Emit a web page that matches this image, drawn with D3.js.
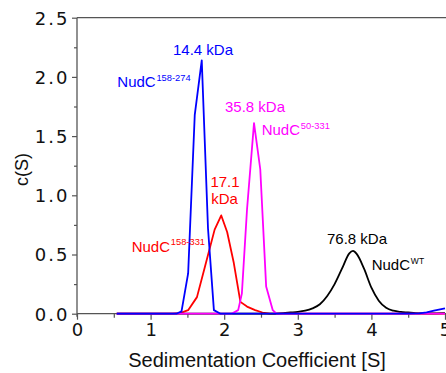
<!DOCTYPE html>
<html>
<head>
<meta charset="utf-8">
<script src="https://cdn.jsdelivr.net/npm/d3@7/dist/d3.min.js"></script>
<style>
  html, body { margin: 0; padding: 0; background: #fff; }
  svg { display: block; }
</style>
</head>
<body>
<svg id="chart" width="446" height="373"></svg>
<script>
// c(S) distributions of NudC constructs (sedimentation velocity AUC)

// NudC 158-274
const s158_274 = [0.54, 1.00, 1.35, 1.42, 1.51, 1.60, 1.695, 1.78, 1.86, 1.95, 2.50, 3.00, 3.50, 4.00, 4.50, 4.65, 4.75, 4.85, 5.00];
const c158_274 = [0.00, 0.00, 0.00, 0.02, 0.34, 1.68, 2.14, 0.72, 0.03, 0.00, 0.00, 0.00, 0.00, 0.00, 0.00, 0.003, 0.012, 0.025, 0.045];

// NudC 158-331
const s158_331 = [0.54, 1.30, 1.40, 1.51, 1.63, 1.74, 1.87, 1.96, 2.04, 2.13, 2.22, 2.31, 2.42, 2.52, 2.62, 3.00, 5.00];
const c158_331 = [0.00, 0.00, 0.005, 0.03, 0.14, 0.40, 0.71, 0.83, 0.69, 0.43, 0.10, 0.06, 0.03, 0.01, 0.00, 0.00, 0.00];

// NudC 50-331
const s50_331 = [0.54, 2.10, 2.19, 2.24, 2.31, 2.405, 2.49, 2.57, 2.66, 2.71, 3.00, 5.00];
const c50_331 = [0.00, 0.00, 0.03, 0.17, 0.88, 1.61, 1.22, 0.23, 0.03, 0.00, 0.00, 0.00];

// NudC wild type
const sWT = [0.54, 2.60, 2.80, 2.90, 3.00, 3.10, 3.20, 3.30, 3.40, 3.50, 3.60, 3.70, 3.75, 3.80, 3.90, 4.00, 4.10, 4.20, 4.30, 4.40, 4.50, 4.60, 4.80, 5.00];
const cWT = [0.00, 0.00, 0.005, 0.01, 0.015, 0.025, 0.045, 0.08, 0.15, 0.25, 0.38, 0.51, 0.53, 0.505, 0.38, 0.22, 0.11, 0.05, 0.025, 0.015, 0.01, 0.005, 0.003, 0.005];

// axis ticks
const xTicks = [0, 1, 2, 3, 4, 5];
const xMinorTicks = [0.5, 1.5, 2.5, 3.5, 4.5];
const yTicks = [0, 0.5, 1.0, 1.5, 2.0, 2.5];
const yMinorTicks = [0.25, 0.75, 1.25, 1.75, 2.25];

// molecular weight annotations
const massLabels = ["14.4 kDa", "35.8 kDa", "17.1", "kDa", "76.8 kDa"];
const constructNames = ["NudC", "NudC", "NudC", "NudC"];
const constructRanges = ["158-274", "50-331", "158-331", "WT"];

const svg = d3.select("#chart");
const x = d3.scaleLinear().domain([0, 5]).range([77, 445]);
const y = d3.scaleLinear().domain([0, 2.5]).range([313.7, 17.7]);

const axisColor = "#555";
const tickFont = "'DejaVu Sans', Verdana, sans-serif";
const labelFont = "'Liberation Sans', Arial, sans-serif";

// top frame line
svg.append("line")
  .attr("x1", x(0)).attr("x2", 446)
  .attr("y1", y(2.5)).attr("y2", y(2.5))
  .attr("stroke", axisColor).attr("stroke-width", 1.3);

// x axis
const xAxis = d3.axisBottom(x).tickValues(xTicks).tickSize(6).tickFormat(d3.format("d"));
const gx = svg.append("g").attr("transform", `translate(0,${y(0)})`).call(xAxis);
gx.select(".domain").attr("stroke", axisColor).attr("stroke-width", 1.3).attr("d", `M${x(0)},0H446`);
gx.selectAll(".tick line").attr("stroke", axisColor).attr("stroke-width", 1.2);
gx.selectAll(".tick text")
  .attr("y", 10).attr("dy", "0.71em")
  .attr("fill", "#111")
  .style("font-family", tickFont).style("font-size", "18px");
const gxMinor = svg.append("g").attr("transform", `translate(0,${y(0)})`)
  .call(d3.axisBottom(x).tickValues(xMinorTicks).tickSize(4).tickFormat(""));
gxMinor.select(".domain").remove();
gxMinor.selectAll(".tick line").attr("stroke", axisColor).attr("stroke-width", 1.2);

// y axis
const yAxis = d3.axisLeft(y).tickValues(yTicks).tickSize(5).tickFormat(d3.format(".1f"));
const gy = svg.append("g").attr("transform", `translate(${x(0)},0)`).call(yAxis);
gy.select(".domain").attr("stroke", axisColor).attr("stroke-width", 1.3)
  .attr("d", `M0,${y(2.5)}V${y(0) + 3}`);
gy.selectAll(".tick line").attr("stroke", axisColor).attr("stroke-width", 1.2);
gy.selectAll(".tick text")
  .attr("x", -7.5).attr("dy", "0.36em")
  .attr("fill", "#111")
  .style("font-family", tickFont).style("font-size", "18px")
  .style("letter-spacing", "2px");
const gyMinor = svg.append("g").attr("transform", `translate(${x(0)},0)`)
  .call(d3.axisLeft(y).tickValues(yMinorTicks).tickSize(3).tickFormat(""));
gyMinor.select(".domain").remove();
gyMinor.selectAll(".tick line").attr("stroke", axisColor).attr("stroke-width", 1.2);

// axis titles
svg.append("text")
  .attr("x", 257).attr("y", 366.5)
  .attr("text-anchor", "middle")
  .style("font-family", labelFont).style("font-size", "20px")
  .attr("fill", "#111")
  .text("Sedimentation Coefficient [S]");
svg.append("text")
  .attr("transform", "translate(28,169.5) rotate(-90)")
  .attr("text-anchor", "middle")
  .style("font-family", labelFont).style("font-size", "18px")
  .attr("fill", "#111")
  .text("c(S)");

// distributions
const series = [
  { s: s158_331, c: c158_331, color: "#ff0000", curve: d3.curveLinear },
  { s: sWT, c: cWT, color: "#000000", curve: d3.curveMonotoneX },
  { s: s50_331, c: c50_331, color: "#ff00ff", curve: d3.curveLinear },
  { s: s158_274, c: c158_274, color: "#0000ff", curve: d3.curveLinear }
];
series.forEach(sr => {
  const pts = sr.s.map((v, i) => [v, sr.c[i]]);
  const line = d3.line().x(d => x(d[0])).y(d => y(d[1])).curve(sr.curve);
  svg.append("path")
    .datum(pts)
    .attr("d", line)
    .attr("fill", "none")
    .attr("stroke", sr.color)
    .attr("stroke-width", 1.8)
    .attr("stroke-linejoin", "round");
});

// mass labels
const massPos = [
  { x: 203, y: 55, color: "#0000ff" },
  { x: 255, y: 111.7, color: "#ff00ff" },
  { x: 225, y: 186.7, color: "#ff0000" },
  { x: 224.5, y: 204, color: "#ff0000" },
  { x: 357, y: 244.3, color: "#000000" }
];
massLabels.forEach((t, i) => {
  svg.append("text")
    .attr("x", massPos[i].x).attr("y", massPos[i].y)
    .attr("text-anchor", "middle")
    .style("font-family", labelFont).style("font-size", "15px")
    .attr("fill", massPos[i].color)
    .text(t);
});

// construct names with superscript residue ranges
const namePos = [
  { x: 117.3, y: 87.3, color: "#0000ff", sup: 9.3 },
  { x: 261.7, y: 135, color: "#ff00ff", sup: 9.3 },
  { x: 131.7, y: 251.7, color: "#ff0000", sup: 9.3 },
  { x: 371.7, y: 270, color: "#000000", sup: 8.5 }
];
constructNames.forEach((t, i) => {
  const p = namePos[i];
  const txt = svg.append("text")
    .attr("x", p.x).attr("y", p.y)
    .style("font-family", labelFont).style("font-size", "15px")
    .attr("fill", p.color);
  txt.append("tspan").text(t);
  txt.append("tspan")
    .attr("dx", 0.8).attr("dy", -6.5)
    .style("font-size", p.sup + "px")
    .text(constructRanges[i]);
});
</script>
</body>
</html>
